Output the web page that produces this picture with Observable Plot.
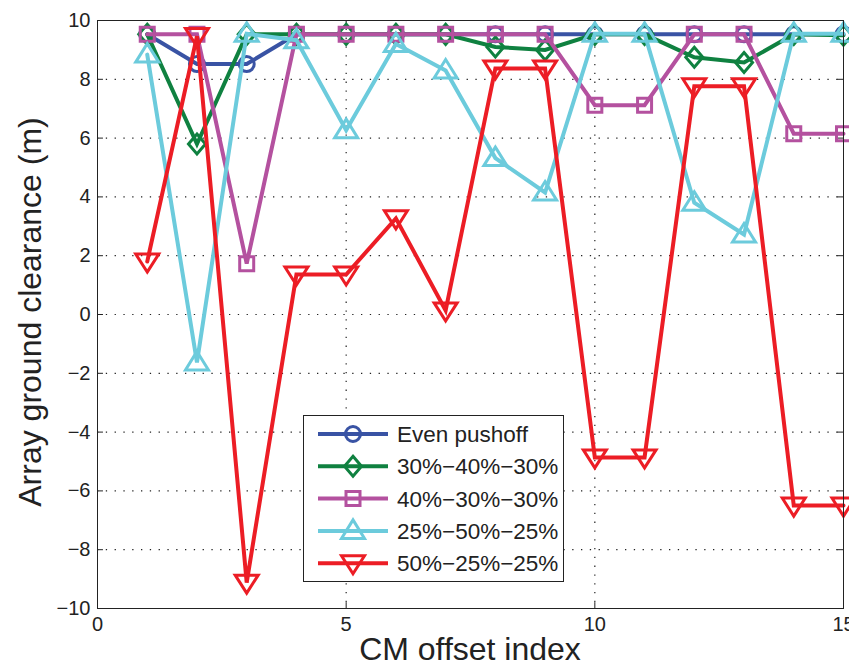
<!DOCTYPE html>
<html>
<head>
<meta charset="utf-8">
<script src="https://cdn.jsdelivr.net/npm/d3@7"></script>
<script src="https://cdn.jsdelivr.net/npm/@observablehq/plot@0.6"></script>
<style>
  html, body { margin: 0; padding: 0; background: #fff; }
  #chart svg { display: block; }
</style>
</head>
<body>
<div id="chart"></div>
<script>
// ---- data ----
const offsetIndex = [1, 2, 3, 4, 5, 6, 7, 8, 9, 10, 11, 12, 13, 14, 15];
const seriesNames = ["Even pushoff", "30%\u221240%\u221230%", "40%\u221230%\u221230%", "25%\u221250%\u221225%", "50%\u221225%\u221225%"];
const evenPushoff   = [9.53, 8.52, 8.52, 9.53, 9.53, 9.53, 9.53, 9.53, 9.53, 9.53, 9.53, 9.53, 9.53, 9.53, 9.53];
const split304030   = [9.53, 5.8, 9.53, 9.53, 9.53, 9.53, 9.53, 9.1, 9.0, 9.53, 9.53, 8.75, 8.57, 9.53, 9.5];
const split403030   = [9.53, 9.53, 1.73, 9.53, 9.53, 9.53, 9.53, 9.53, 9.53, 7.12, 7.12, 9.53, 9.53, 6.15, 6.15];
const split255025   = [8.84, -1.63, 9.55, 9.33, 6.27, 9.2, 8.3, 5.32, 4.15, 9.55, 9.55, 3.8, 2.72, 9.55, 9.55];
const split502525   = [1.8, 9.47, -9.12, 1.36, 1.36, 3.27, 0.14, 8.37, 8.37, -4.86, -4.86, 7.76, 7.76, -6.5, -6.5];
const seriesValues = [evenPushoff, split304030, split403030, split255025, split502525];
const xTicks = [0, 5, 10, 15];
const yTicks = [-10, -8, -6, -4, -2, 0, 2, 4, 6, 8, 10];

// ---- styles ----
const colors = ["#3953a4", "#0f8140", "#b4519f", "#6ccbdc", "#ec1d25"];
const symCircle = {draw(c) { c.moveTo(7.5, 0); c.arc(0, 0, 7.5, 0, 2 * Math.PI); c.closePath(); }};
const symDiamond = {draw(c) { c.moveTo(0, -10); c.lineTo(8.5, 0); c.lineTo(0, 10); c.lineTo(-8.5, 0); c.closePath(); }};
const symSquare = {draw(c) { c.moveTo(-7, -7); c.lineTo(7, -7); c.lineTo(7, 7); c.lineTo(-7, 7); c.closePath(); }};
const symTriUp = {draw(c) { c.moveTo(0, -11); c.lineTo(11.5, 7.5); c.lineTo(-11.5, 7.5); c.closePath(); }};
const symTriDown = {draw(c) { c.moveTo(0, 10.5); c.lineTo(11.5, -7.5); c.lineTo(-11.5, -7.5); c.closePath(); }};
const symbols = [symCircle, symDiamond, symSquare, symTriUp, symTriDown];

const rows = seriesValues.map((vals, s) => offsetIndex.map((x, i) => ({x, y: vals[i], s})));

const font = "'Liberation Sans', Arial, Helvetica, sans-serif";
const gridY = yTicks.filter(v => v > -10 && v < 10);
const gridX = xTicks.filter(v => v > 0 && v < 15);

const seriesMarks = rows.flatMap((data, s) => [
  Plot.line(data, {x: "x", y: "y", stroke: colors[s], strokeWidth: 4, strokeLinejoin: "miter", strokeMiterlimit: 3}),
  Plot.dot(data, {x: "x", y: "y", symbol: () => symbols[s], r: 8, stroke: colors[s], strokeWidth: 3, fill: "none"})
]);

const svg = Plot.plot({
  width: 849,
  height: 670,
  marginLeft: 97,
  marginRight: 6,
  marginTop: 20,
  marginBottom: 62,
  style: {fontFamily: font, background: "#fff", color: "#222", overflow: "visible"},
  x: {domain: [0, 15]},
  y: {domain: [-10, 10]},
  marks: [
    Plot.ruleY(gridY, {stroke: "#222", strokeWidth: 1.2, strokeDasharray: "1.3,7.5"}),
    Plot.ruleX(gridX, {stroke: "#222", strokeWidth: 1.2, strokeDasharray: "1.3,7.5"}),
    // inward ticks (MATLAB style)
    Plot.ruleX(xTicks, {y1: -10, y2: -9.8, stroke: "#222"}),
    Plot.ruleX(xTicks, {y1: 10, y2: 9.8, stroke: "#222"}),
    Plot.ruleY(yTicks, {x1: 0, x2: 0.12, stroke: "#222"}),
    Plot.ruleY(yTicks, {x1: 15, x2: 14.88, stroke: "#222"}),
    Plot.axisX({ticks: xTicks, tickSize: 0, tickPadding: 8, fontSize: 20, label: null}),
    Plot.axisY({ticks: yTicks, tickSize: 0, tickPadding: 7, fontSize: 20, label: null}),
    ...seriesMarks,
    Plot.frame({stroke: "#222", strokeWidth: 1})
  ]
});

const root = d3.select(svg);
// axis titles
root.append("text")
  .attr("x", 470).attr("y", 660)
  .attr("text-anchor", "middle")
  .attr("font-family", font).attr("font-size", 32).attr("fill", "#222")
  .text("CM offset index");
root.append("text")
  .attr("transform", "translate(41,312) rotate(-90)")
  .attr("text-anchor", "middle")
  .attr("font-family", font).attr("font-size", 32).attr("fill", "#222")
  .text("Array ground clearance (m)");

// legend
const lg = root.append("g");
lg.append("rect").attr("x", 303.5).attr("y", 415.5).attr("width", 260).attr("height", 166)
  .attr("fill", "#fff").attr("stroke", "#222").attr("stroke-width", 1);
seriesNames.forEach((name, i) => {
  const cy = 434 + i * 32.3;
  lg.append("line").attr("x1", 318).attr("x2", 388).attr("y1", cy).attr("y2", cy)
    .attr("stroke", colors[i]).attr("stroke-width", 4);
  lg.append("path").attr("d", d3.symbol(symbols[i], 64)())
    .attr("transform", `translate(353,${cy})`)
    .attr("fill", "none").attr("stroke", colors[i]).attr("stroke-width", 3);
  lg.append("text").attr("x", 397).attr("y", cy).attr("dy", "0.36em")
    .attr("text-anchor", "start")
    .attr("font-family", font).attr("font-size", 22.5).attr("fill", "#222")
    .text(name);
});

document.getElementById("chart").appendChild(svg);
</script>
</body>
</html>
